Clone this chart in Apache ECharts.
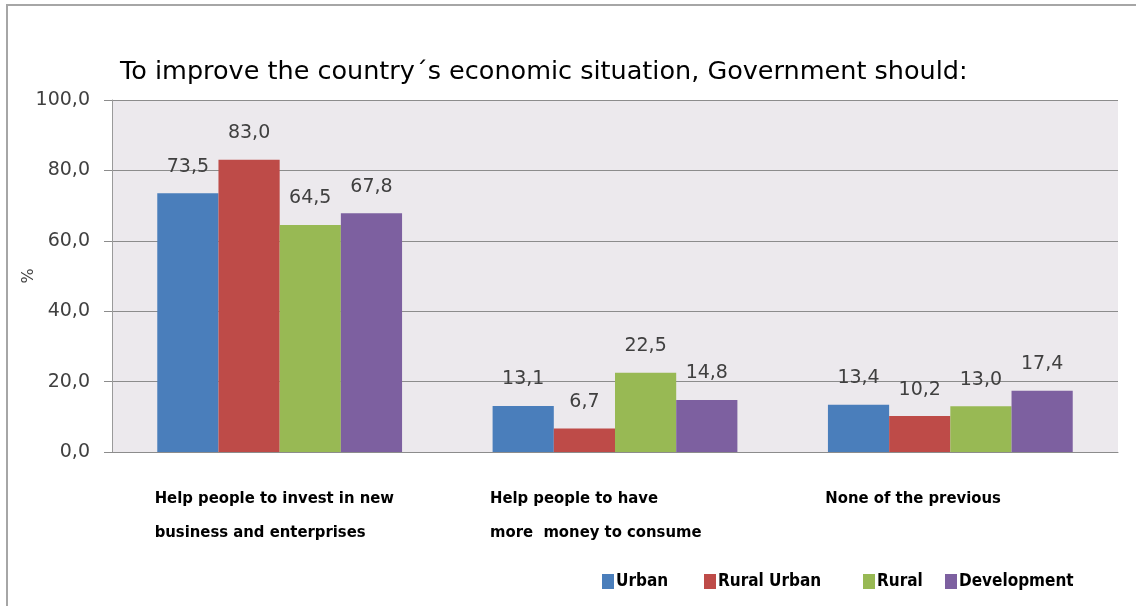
<!DOCTYPE html>
<html>
<head>
<meta charset="utf-8">
<script src="https://cdn.jsdelivr.net/npm/echarts@6/dist/echarts.min.js"></script>
<style>
  html, body { margin: 0; padding: 0; background: #fff; }
  #chart { width: 1136px; height: 606px; }
</style>
</head>
<body>
<div id="chart"></div>
<script>
// categories (x axis), written as the two lines they show in
var categories = [
  ['Help people to invest in new', 'business and enterprises'],
  ['Help people to have', 'more  money to consume'],
  ['None of the previous']
];
var urban = [73.5, 13.1, 13.4];
var ruralUrban = [83.0, 6.7, 10.2];
var rural = [64.5, 22.5, 13.0];
var development = [67.8, 14.8, 17.4];
var seriesNames = ['Urban', 'Rural Urban', 'Rural', 'Development'];
var colors = ['#4a7ebb', '#be4b48', '#98b954', '#7d60a0'];
// where each legend entry starts (the original spaces them unevenly)
var legendLeft = [597, 699, 858, 940];

var chart = echarts.init(document.getElementById('chart'));

function comma(v) {
  return v.toFixed(1).replace('.', ',');
}

function barSeries(name, data) {
  return {
    name: name,
    type: 'bar',
    data: data,
    barGap: '0%',
    barCategoryGap: '27%',
    label: {
      show: true,
      position: 'top',
      distance: 17,
      color: '#404040',
      fontSize: 19,
      fontFamily: 'DejaVu Sans',
      formatter: function (p) { return comma(p.value); }
    }
  };
}

var legends = seriesNames.map(function (name, i) {
  return {
    data: [name],
    left: legendLeft[i],
    top: 568,
    itemWidth: 12,
    itemHeight: 15,
    itemGap: 0,
    icon: 'rect',
    textStyle: {
      fontFamily: 'DejaVu Sans Condensed',
      fontWeight: 'bold',
      fontSize: 17,
      color: '#000',
      padding: [0, 0, 0, -3]
    }
  };
});

var option = {
  backgroundColor: '#fff',
  color: colors,
  animation: false,
  title: {
    text: 'To improve the country\u00b4s economic situation, Government should:',
    left: 115,
    top: 54,
    textStyle: {
      fontFamily: 'DejaVu Sans',
      fontSize: 25.5,
      fontWeight: 'normal',
      color: '#000'
    }
  },
  legend: legends,
  graphic: [{
    type: 'rect',
    shape: { x: 7, y: 5, width: 1140, height: 620 },
    style: { fill: 'none', stroke: '#a6a6a6', lineWidth: 2 },
    silent: true
  }],
  grid: {
    left: 112,
    right: 18,
    top: 100,
    bottom: 154,
    show: true,
    backgroundColor: '#ece9ed',
    borderWidth: 0
  },
  xAxis: {
    type: 'category',
    data: categories.map(function (c) { return c.join('\n'); }),
    axisLine: { lineStyle: { color: '#8c8c8c', width: 1 } },
    axisTick: { show: false },
    axisLabel: {
      margin: 30,
      formatter: function (v) {
        return v.split('\n').map(function (s) { return '{a|' + s + '}'; }).join('\n');
      },
      rich: {
        a: {
          width: 250,
          align: 'left',
          fontFamily: 'DejaVu Sans Condensed',
          fontWeight: 'bold',
          fontSize: 16.5,
          lineHeight: 34,
          color: '#000'
        }
      }
    }
  },
  yAxis: {
    type: 'value',
    min: 0,
    max: 100,
    interval: 20,
    name: '%',
    nameLocation: 'middle',
    nameRotate: 90,
    nameGap: 75,
    nameMoveOverlap: false,
    nameTextStyle: { fontFamily: 'DejaVu Sans', fontSize: 16, color: '#404040' },
    axisLine: { show: true, lineStyle: { color: '#9a9a9a' } },
    axisTick: { show: true, length: 8, lineStyle: { color: '#8c8c8c' } },
    splitLine: { lineStyle: { color: '#8c8c8c', width: 1 } },
    axisLabel: {
      margin: 22,
      color: '#404040',
      fontFamily: 'DejaVu Sans',
      fontSize: 19,
      formatter: function (v) { return comma(v); }
    }
  },
  series: [
    barSeries(seriesNames[0], urban),
    barSeries(seriesNames[1], ruralUrban),
    barSeries(seriesNames[2], rural),
    barSeries(seriesNames[3], development)
  ]
};

chart.setOption(option);
</script>
</body>
</html>
